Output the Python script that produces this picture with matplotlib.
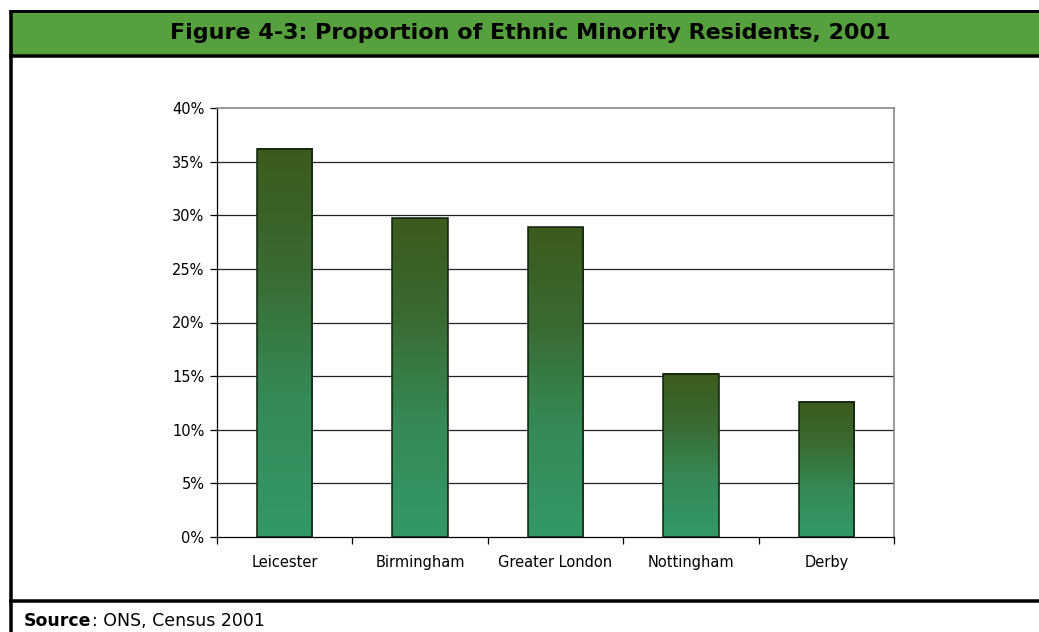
import numpy as np
import matplotlib
matplotlib.use("Agg")
import matplotlib.pyplot as plt
from matplotlib.colors import LinearSegmentedColormap
from matplotlib.ticker import FuncFormatter

# Datos
ciudades = ["Leicester", "Birmingham", "Greater London", "Nottingham", "Derby"]
porcentajes = [36.2, 29.7, 28.9, 15.2, 12.6]
ticks_y = [0, 5, 10, 15, 20, 25, 30, 35, 40]

W, H = 1039, 632
fig = plt.figure(figsize=(W / 100, H / 100), dpi=100)

def fx(px):
    return px / W

def fy(py):
    return 1 - py / H

# Cabecera verde con borde negro
fig.patches.append(plt.Rectangle((fx(10), fy(56)), 1, fy(11) - fy(56),
                                 transform=fig.transFigure, facecolor="#56a03e",
                                 edgecolor="none", zorder=0))
lineas = [
    ([fx(9), 1], [fy(11), fy(11)], 3),
    ([fx(9), 1], [fy(55.5), fy(55.5)], 3.5),
    ([fx(10.5), fx(10.5)], [fy(10), 0], 3.5),
    ([fx(9), 1], [fy(600.5), fy(600.5)], 3.5),
]
for xs, ys, lw in lineas:
    fig.add_artist(plt.Line2D(xs, ys, color="black", lw=lw * 0.72,
                              transform=fig.transFigure, solid_capstyle="butt"))

fig.text(fx(530), fy(33), "Figure 4-3: Proportion of Ethnic Minority Residents, 2001",
         ha="center", va="center", fontsize=16, fontweight="bold", color="black")
t_src = fig.text(fx(24), fy(621), "Source", ha="left", va="center", fontsize=12.5,
                 fontweight="bold")
fig.canvas.draw()
bb = t_src.get_window_extent()
fig.text(bb.x1 / W, fy(621), ": ONS, Census 2001", ha="left", va="center",
         fontsize=12.5)

# Area del grafico
ax = fig.add_axes([fx(217), fy(537), fx(894) - fx(217), fy(108) - fy(537)])

for t in ticks_y[1:-1]:
    ax.axhline(t, color="#222222", lw=0.9, zorder=1)

cmap = LinearSegmentedColormap.from_list(
    "verde", [(0.0, "#339966"), (0.35, "#358a58"), (0.7, "#3a6a30"), (1.0, "#3d5a1c")])
grad = np.linspace(0, 1, 256).reshape(-1, 1)
ancho = 0.41
for i, v in enumerate(porcentajes):
    ax.imshow(grad, extent=[i - ancho / 2, i + ancho / 2, 0, v], origin="lower",
              cmap=cmap, aspect="auto", zorder=2)
    ax.add_patch(plt.Rectangle((i - ancho / 2, 0), ancho, v, facecolor="none",
                               edgecolor="#0d1f0d", lw=1.1, zorder=3))

ax.set_xlim(-0.5, len(ciudades) - 0.5)
ax.set_ylim(0, 40)

ax.set_yticks(ticks_y)
ax.yaxis.set_major_formatter(FuncFormatter(lambda v, p: f"{int(v)}%"))
ax.set_xticks(np.arange(len(ciudades)))
ax.set_xticklabels(ciudades)
ax.set_xticks(np.arange(-0.5, len(ciudades)), minor=True)
ax.tick_params(axis="x", which="major", length=0, pad=13, labelsize=10.5)
ax.tick_params(axis="x", which="minor", length=5, direction="out", width=0.9)
ax.tick_params(axis="y", length=5, direction="out", width=0.9, labelsize=10.5, pad=4)

for s in ["top", "right"]:
    ax.spines[s].set_color("#888888")
    ax.spines[s].set_linewidth(1.2)
for s in ["left", "bottom"]:
    ax.spines[s].set_color("black")
    ax.spines[s].set_linewidth(0.9)

fig.savefig("out.png", dpi=100)
